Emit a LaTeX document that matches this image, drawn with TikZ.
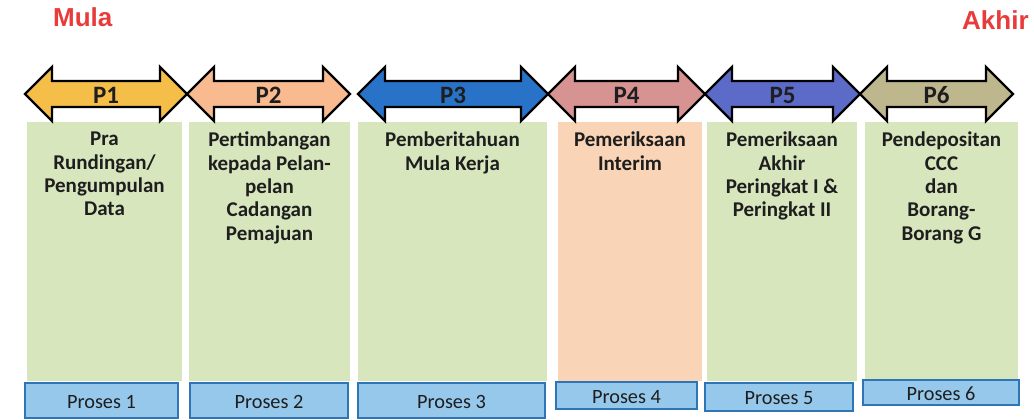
\documentclass[tikz,border=0pt]{standalone}
\usepackage{fontspec}
\setmainfont{Carlito}
\newfontfamily\arialfont{Liberation Sans}
\definecolor{redlbl}{RGB}{232,60,58}
\definecolor{boxgreen}{RGB}{216,230,190}
\definecolor{boxorange}{RGB}{250,212,182}
\definecolor{procfill}{RGB}{150,200,236}
\definecolor{procdraw}{RGB}{46,117,182}
\definecolor{txt}{RGB}{30,30,30}
\definecolor{aone}{RGB}{245,190,72}
\definecolor{atwo}{RGB}{248,186,142}
\definecolor{athree}{RGB}{40,115,200}
\definecolor{afour}{RGB}{215,146,146}
\definecolor{afive}{RGB}{92,106,200}
\definecolor{asix}{RGB}{190,182,140}
\tikzset{
  arrowshape/.style={draw=black, line width=2.4pt, line join=miter},
  arrowlbl/.style={font=\bfseries\fontsize{25}{25}\selectfont, text=txt, inner sep=0pt},
  colbox/.style={draw=none, fill=boxgreen},
  coltext/.style={font=\bfseries\fontsize{21}{23.3}\selectfont, text=txt, align=center, anchor=north, inner sep=0pt},
  procbox/.style={draw=procdraw, fill=procfill, line width=1.3pt},
  proclbl/.style={font=\fontsize{20.3}{22}\selectfont, text=txt, inner sep=0pt},
  endlbl/.style={font=\arialfont\bfseries\fontsize{26}{26}\selectfont, text=redlbl, inner sep=0pt, anchor=base west}
}
\newcommand{\dblarr}[4]{%
  \fill[#3] (#1,94) -- (#1+27,67) -- (#1+27,81) -- (#2-27,81) -- (#2-27,67) -- (#2,94)
    -- (#2-27,121) -- (#2-27,107) -- (#1+27,107) -- (#1+27,121) -- cycle;
  \draw[arrowshape] (#1,94) -- (#1+27,67) -- (#1+27,81) -- (#2-27,81) -- (#2-27,67) -- (#2,94)
    -- (#2-27,121) -- (#2-27,107) -- (#1+27,107) -- (#1+27,121) -- cycle;
  \node[arrowlbl] (#4) at ({(#1+#2)/2},95) {#4};
}
\begin{document}
\begin{tikzpicture}[x=1pt,y=-1pt]
\useasboundingbox (0,0) rectangle (1034,420);

% end labels
\node[endlbl] (mula) at (53,27) {Mula};
\node[endlbl] (akhir) at (962,30) {Akhir};

% column boxes
\fill[colbox] (27,122) rectangle (182,381);
\fill[colbox] (189,122) rectangle (350,381);
\fill[colbox] (358,122) rectangle (547,381);
\fill[colbox, fill=boxorange] (558,122) rectangle (702,381);
\fill[colbox] (707,122) rectangle (857,381);
\fill[colbox] (865,122) rectangle (1018,379);

% arrows
\dblarr{25}{187}{aone}{P1}
\dblarr{187}{350}{atwo}{P2}
\dblarr{358}{548}{athree}{P3}
\dblarr{548}{705}{afour}{P4}
\dblarr{705}{860}{afive}{P5}
\dblarr{860}{1013}{asix}{P6}

% column texts
\node[coltext] (t1) at (104.5,132) {Pra\\Rundingan/\\Pengumpulan\\Data};
\node[coltext] (t2) at (269.5,132) {Pertimbangan\\kepada Pelan-\\pelan\\Cadangan\\Pemajuan};
\node[coltext] (t3) at (452.5,132) {Pemberitahuan\\Mula Kerja};
\node[coltext] (t4) at (630,132) {Pemeriksaan\\Interim};
\node[coltext] (t5) at (782,132) {Pemeriksaan\\Akhir\\Peringkat I \&\\Peringkat II};
\node[coltext] (t6) at (941.5,132) {Pendepositan\\CCC\\dan\\Borang-\\Borang G};

% process boxes
\draw[procbox] (25,383) rectangle (178,418);
\node[proclbl] (pr1) at (101.5,402) {Proses 1};
\draw[procbox] (190,383) rectangle (348,418);
\node[proclbl] (pr2) at (269,402) {Proses 2};
\draw[procbox] (358,383) rectangle (545,418);
\node[proclbl] (pr3) at (451.5,402) {Proses 3};
\draw[procbox] (556,382) rectangle (697,409);
\node[proclbl] (pr4) at (626.5,397) {Proses 4};
\draw[procbox] (705,383) rectangle (853,411);
\node[proclbl] (pr5) at (779,398) {Proses 5};
\draw[procbox] (863,380) rectangle (1019,405);
\node[proclbl] (pr6) at (941,394) {Proses 6};
\end{tikzpicture}
\end{document}
